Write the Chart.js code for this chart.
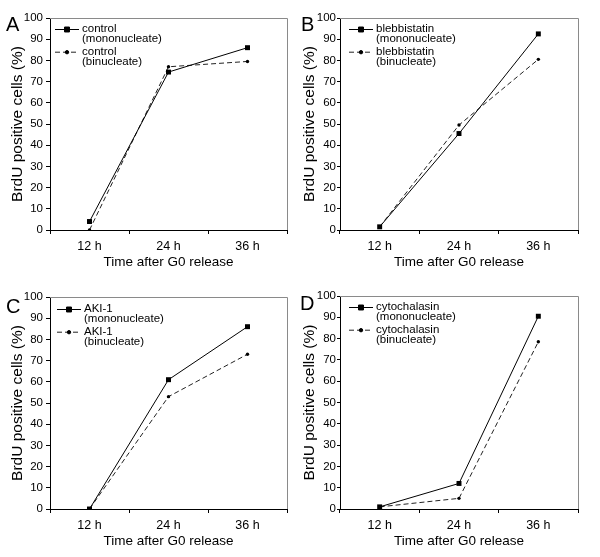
<!DOCTYPE html>
<html>
<head>
<meta charset="utf-8">
<title>BrdU positive cells</title>
<script src="https://cdn.jsdelivr.net/npm/chart.js@4.4.1/dist/chart.umd.min.js"></script>
<style>
  body { margin: 0; background: #fff; }
  #wrap { position: relative; width: 600px; height: 557px; font-family: 'Liberation Sans', Arial, sans-serif; }
  .panel { position: absolute; width: 300px; height: 278px; }
  .panel canvas { position: absolute; left: 0; top: 0; }
  .letra { position: absolute; font-size: 20px; line-height: 20px; color: #000; }
</style>
</head>
<body>
<div id="wrap">
  <div class="panel" style="left:0;top:0"><canvas id="chartA" width="300" height="278"></canvas></div>
  <div class="panel" style="left:300px;top:0"><canvas id="chartB" width="300" height="278"></canvas></div>
  <div class="panel" style="left:0;top:279px"><canvas id="chartC" width="300" height="278"></canvas></div>
  <div class="panel" style="left:300px;top:279px"><canvas id="chartD" width="300" height="278"></canvas></div>
  <div class="letra" style="left:6px;top:14px">A</div>
  <div class="letra" style="left:301px;top:14px">B</div>
  <div class="letra" style="left:6px;top:296px">C</div>
  <div class="letra" style="left:300px;top:293px">D</div>
</div>
<script>
// Datos
const timeLabels = ['12 h', '24 h', '36 h'];
const yMin = 0;
const yMax = 100;
const yStep = 10;

const controlMono = [4, 74.5, 86];
const controlBin = [0, 77, 79.5];
const blebMono = [1.5, 45.5, 92.5];
const blebBin = [1.5, 49.5, 80.5];
const akiMono = [0, 61, 86];
const akiBin = [0, 53, 73];
const cytoMono = [1, 12, 90.5];
const cytoBin = [1, 5, 78.5];

Chart.defaults.font.family = "'Liberation Sans', Arial, sans-serif";
Chart.defaults.color = '#000';

// Marco gris arriba y a la derecha del área del gráfico
const marcoPlugin = {
    id: 'marco',
    beforeDatasetsDraw(chart) {
        const { ctx, chartArea: a } = chart;
        ctx.save();
        ctx.strokeStyle = '#8a8a8a';
        ctx.lineWidth = 1;
        ctx.beginPath();
        ctx.moveTo(a.left, a.top + 0.5);
        ctx.lineTo(a.right + 0.5, a.top + 0.5);
        ctx.lineTo(a.right + 0.5, a.bottom);
        ctx.stroke();
        ctx.restore();
    }
};

// Leyenda dentro del área del gráfico, arriba a la izquierda
const leyendaPlugin = {
    id: 'leyendaInterna',
    afterDatasetsDraw(chart, args, opts) {
        const { ctx, chartArea: a } = chart;
        ctx.save();
        chart.data.datasets.forEach((ds, i) => {
            const x0 = a.left + opts.x;
            const y = a.top + opts.y + i * 22.7;
            ctx.strokeStyle = ds.borderColor;
            ctx.lineWidth = 1;
            ctx.setLineDash(ds.borderDash || []);
            ctx.beginPath();
            ctx.moveTo(x0, y + 0.5);
            ctx.lineTo(x0 + 24, y + 0.5);
            ctx.stroke();
            ctx.setLineDash([]);
            ctx.fillStyle = ds.backgroundColor;
            ctx.strokeStyle = ds.backgroundColor;
            Chart.helpers.drawPoint(ctx, { pointStyle: ds.pointStyle, radius: ds.pointRadius, rotation: 0, borderWidth: 1 }, x0 + 12, y + 0.5);
            ctx.fillStyle = '#000';
            ctx.font = "11.5px 'Liberation Sans', Arial, sans-serif";
            ctx.textBaseline = 'middle';
            ctx.textAlign = 'left';
            ds.label.forEach((linea, j) => {
                ctx.fillText(linea, x0 + 27, y + j * 10);
            });
        });
        ctx.restore();
    }
};

function crearPanel(id, conf) {
    const canvas = document.getElementById(id);
    if (!canvas) return null;
    return new Chart(canvas, {
        type: 'line',
        data: {
            labels: timeLabels,
            datasets: [
                {
                    label: [conf.nombre, '(mononucleate)'],
                    data: conf.mono,
                    borderColor: '#000',
                    backgroundColor: '#000',
                    borderWidth: 1,
                    pointStyle: 'rect',
                    pointRadius: 3.5,
                    pointBorderWidth: 0,
                    tension: 0
                },
                {
                    label: [conf.nombre, '(binucleate)'],
                    data: conf.bin,
                    borderColor: '#222',
                    backgroundColor: '#000',
                    borderWidth: 1,
                    borderDash: [5, 3],
                    pointStyle: 'circle',
                    pointRadius: 1.7,
                    pointBorderWidth: 0,
                    tension: 0
                }
            ]
        },
        options: {
            responsive: false,
            animation: false,
            layout: { padding: { top: conf.top, right: conf.right, left: 0, bottom: 0 } },
            plugins: {
                legend: { display: false },
                tooltip: { enabled: false },
                leyendaInterna: { x: conf.legX, y: conf.legY }
            },
            scales: {
                x: {
                    offset: true,
                    grid: { offset: true, drawOnChartArea: false, tickLength: 4, color: '#000' },
                    border: { color: '#000' },
                    ticks: { color: '#000', font: { size: 12.5 }, padding: 5, maxRotation: 0 },
                    title: { display: true, text: 'Time after G0 release', color: '#000', font: { size: 13.5 }, padding: { top: 0, bottom: 8 } },
                    afterFit: s => { s.height = 278 - conf.bottom; }
                },
                y: {
                    min: yMin,
                    max: yMax,
                    ticks: { stepSize: yStep, color: '#000', font: { size: 11.5 }, padding: conf.tickPad },
                    grid: { drawOnChartArea: false, tickLength: conf.tickLen, color: '#000' },
                    border: { color: '#000' },
                    title: { display: true, text: 'BrdU positive cells (%)', color: '#000', font: { size: 15.5 }, padding: { top: conf.titlePad, bottom: 0 } },
                    afterFit: s => { s.width = conf.left; }
                }
            }
        },
        plugins: [marcoPlugin, leyendaPlugin]
    });
}

crearPanel('chartA', { nombre: 'control', mono: controlMono, bin: controlBin, left: 50, top: 18, right: 13, bottom: 230, legX: 5, legY: 11, tickPad: 3, tickLen: 4, titlePad: 8 });
crearPanel('chartB', { nombre: 'blebbistatin', mono: blebMono, bin: blebBin, left: 40, top: 18, right: 22, bottom: 230, legX: 9, legY: 11, tickPad: 1, tickLen: 3, titlePad: 0 });
crearPanel('chartC', { nombre: 'AKI-1', mono: akiMono, bin: akiBin, left: 50, top: 18, right: 13, bottom: 230, legX: 7, legY: 12, tickPad: 3, tickLen: 4, titlePad: 8 });
crearPanel('chartD', { nombre: 'cytochalasin', mono: cytoMono, bin: cytoBin, left: 40, top: 17, right: 22, bottom: 230, legX: 9, legY: 11, tickPad: 1, tickLen: 3, titlePad: 0 });
</script>
</body>
</html>
